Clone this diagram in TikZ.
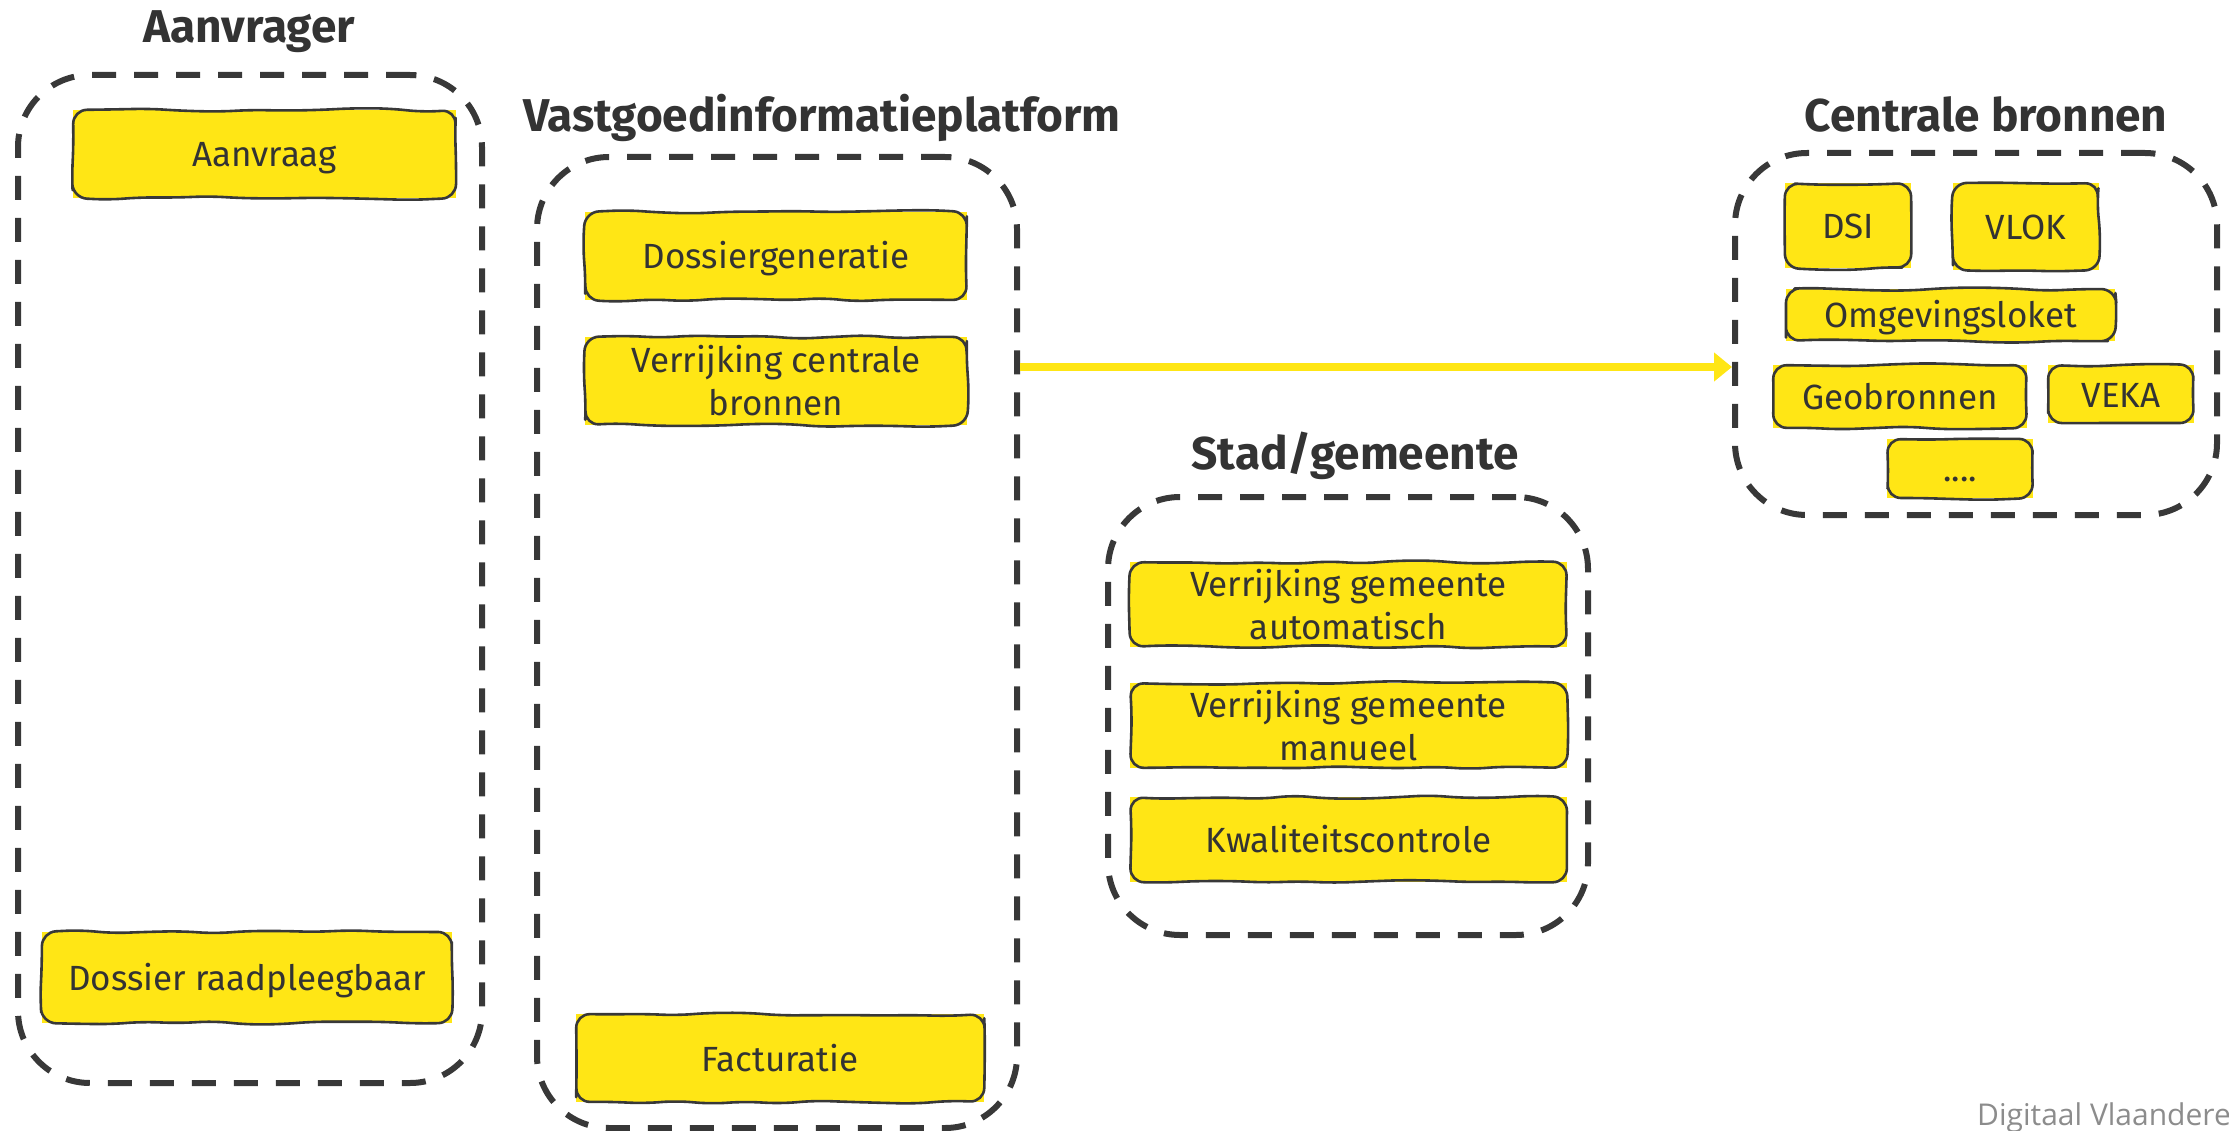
\documentclass[tikz,border=0pt]{standalone}
\usepackage{fontspec}
\setmainfont{Fira Sans}
\newfontfamily\footfont{Open Sans}
\usetikzlibrary{arrows.meta,decorations.pathmorphing}
\definecolor{vlgeel}{HTML}{FFE615}
\definecolor{donker}{HTML}{383838}
\definecolor{tekst}{HTML}{333333}
\definecolor{voet}{HTML}{8C8C8C}
\begin{document}
\begin{tikzpicture}[x=1pt,y=-1pt,
  zone/.style={draw=donker, line width=6pt, dash pattern=on 24pt off 18pt,
    rounded corners=72pt, inner sep=0pt},
  titel/.style={anchor=base, inner sep=0pt, text=tekst,
    font=\fontsize{46}{54}\selectfont\bfseries},
  kaart/.style={fill=vlgeel, sharp corners, inner sep=0pt, text=tekst,
    font=\fontsize{35}{43}\selectfont, align=center,
    postaction={draw=donker, line width=2.6pt, line join=round, decorate,
      decoration={random steps, segment length=34pt, amplitude=2pt},
      rounded corners=14pt}},
  enkel/.style={kaart, text height=30pt, text depth=4pt},
  pijl/.style={draw=vlgeel, line width=8pt, -{Triangle[length=18pt,width=28pt]}}
]
\pgfmathsetseed{4711}
\useasboundingbox (0,0) rectangle (2229,1131);

% swimlane containers
\node[zone, minimum width=464pt, minimum height=1008pt] (aanv) at (250,579) {};
\node[zone, minimum width=480pt, minimum height=971pt] (vip) at (777,642.5) {};
\node[zone, minimum width=480pt, minimum height=438pt] (stad) at (1348,716) {};
\node[zone, minimum width=482pt, minimum height=362pt] (cb) at (1976,334) {};

% lane titles
\node[titel] (t-aanv) at (249,43) {Aanvrager};
\node[titel] (t-vip) at (822,132) {Vastgoedinformatieplatform};
\node[titel] (t-stad) at (1355,469) {Stad/gemeente};
\node[titel] (t-cb) at (1986,132) {Centrale bronnen};

% Aanvrager
\node[enkel, minimum width=383pt, minimum height=88pt] (aanvraag) at (264.5,154) {Aanvraag};
\node[enkel, minimum width=410pt, minimum height=91pt] (raadpl) at (247,977.5) {Dossier raadpleegbaar};

% Vastgoedinformatieplatform
\node[enkel, minimum width=382pt, minimum height=88pt] (dosgen) at (776,256) {Dossiergeneratie};
\node[kaart, minimum width=382pt, minimum height=88pt] (verrcb) at (776,381) {Verrijking centrale\\bronnen};
\node[enkel, minimum width=408pt, minimum height=88pt] (fact) at (780,1058) {Facturatie};

% Stad/gemeente
\node[kaart, minimum width=437pt, minimum height=85pt] (vga) at (1348.5,604.5) {Verrijking gemeente\\automatisch};
\node[kaart, minimum width=437pt, minimum height=85pt] (vgm) at (1348.5,725.5) {Verrijking gemeente\\manueel};
\node[enkel, minimum width=437pt, minimum height=85pt] (kwal) at (1348.5,839.5) {Kwaliteitscontrole};

% Centrale bronnen
\node[enkel, minimum width=126pt, minimum height=85pt] (dsi) at (1848,225.5) {DSI};
\node[enkel, minimum width=146pt, minimum height=87pt] (vlok) at (2026,226.5) {VLOK};
\node[enkel, minimum width=329pt, minimum height=52pt] (omg) at (1950.5,315) {Omgevingsloket};
\node[enkel, minimum width=254pt, minimum height=63pt] (geo) at (1900,396.5) {Geobronnen};
\node[enkel, minimum width=146pt, minimum height=58pt] (veka) at (2121,394) {VEKA};
\node[enkel, minimum width=146pt, minimum height=59pt] (meer) at (1960,468.5) {....};

% request to the central sources
\coordinate (pijlhoogte) at (0,367);
\draw[pijl] (vip.east |- pijlhoogte) -- (cb.west |- pijlhoogte);

% footer
\node[anchor=base west, inner sep=0pt, text=voet, font=\footfont\fontsize{30}{34}\selectfont]
  (voetnoot) at (1977,1125) {Digitaal Vlaanderen};
\end{tikzpicture}
\end{document}
